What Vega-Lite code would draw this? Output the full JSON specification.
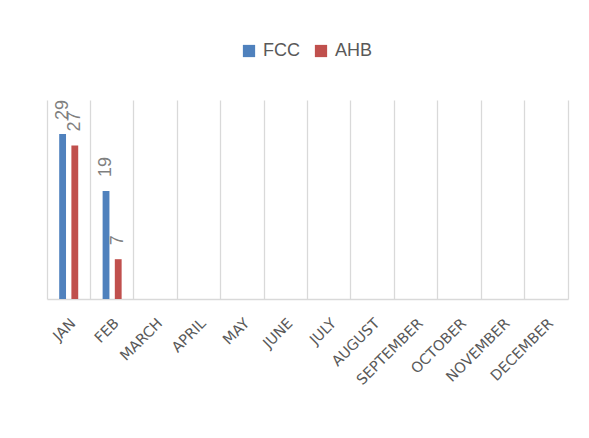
{
  "$schema": "https://vega.github.io/schema/vega-lite/v6.json",
  "width": 521,
  "height": 199,
  "autosize": "none",
  "padding": {"left": 47, "top": 100, "right": 21, "bottom": 139},
  "background": "white",
  "config": {"view": {"stroke": null}, "font": "Liberation Sans"},
  "data": {"values": [
    {"month": "JAN", "series": "FCC", "value": 29},
    {"month": "JAN", "series": "AHB", "value": 27},
    {"month": "FEB", "series": "FCC", "value": 19},
    {"month": "FEB", "series": "AHB", "value": 7}
  ]},
  "encoding": {
    "x": {
      "field": "month", "type": "nominal",
      "scale": {"domain": ["JAN","FEB","MARCH","APRIL","MAY","JUNE","JULY","AUGUST","SEPTEMBER","OCTOBER","NOVEMBER","DECEMBER"], "paddingInner": 0, "paddingOuter": 0},
      "axis": {"title": null, "labelAngle": -45, "labelAlign": "right", "labelBaseline": "top", "labelPadding": 17, "labelFont": "DejaVu Sans", "labelFontSize": 14.5, "labelColor": "#595959", "ticks": false, "grid": true, "bandPosition": 0, "gridColor": "#d9d9d9", "gridWidth": 1.3, "domainColor": "#d9d9d9", "domainWidth": 1.5}
    },
    "xOffset": {"field": "series", "type": "nominal", "sort": ["FCC", "AHB"], "scale": {"paddingInner": 0.44, "paddingOuter": 1.23}},
    "y": {
      "field": "value", "type": "quantitative",
      "scale": {"domain": [0, 35], "nice": false},
      "axis": {"orient": "right", "title": null, "labels": false, "ticks": false, "grid": false, "domainColor": "#d9d9d9", "domainWidth": 1.3}
    }
  },
  "layer": [
    {
      "mark": {"type": "bar"},
      "encoding": {
        "color": {
          "field": "series", "type": "nominal", "sort": ["FCC", "AHB"],
          "scale": {"domain": ["FCC", "AHB"], "range": ["#4f81bd", "#c0504d"]},
          "legend": {"title": null, "orient": "none", "direction": "horizontal", "legendX": 193, "legendY": -58, "symbolType": "square", "symbolSize": 150, "symbolStrokeWidth": 0, "symbolOpacity": 1, "labelFontSize": 18, "labelColor": "#595959", "labelOffset": 5, "columnPadding": 12, "padding": 0}
        }
      }
    },
    {
      "mark": {"type": "text", "angle": 270, "align": "left", "baseline": "middle", "dx": 14, "fontSize": 18, "color": "#7f7f7f"},
      "encoding": {"text": {"field": "value", "type": "quantitative"}}
    }
  ]
}
